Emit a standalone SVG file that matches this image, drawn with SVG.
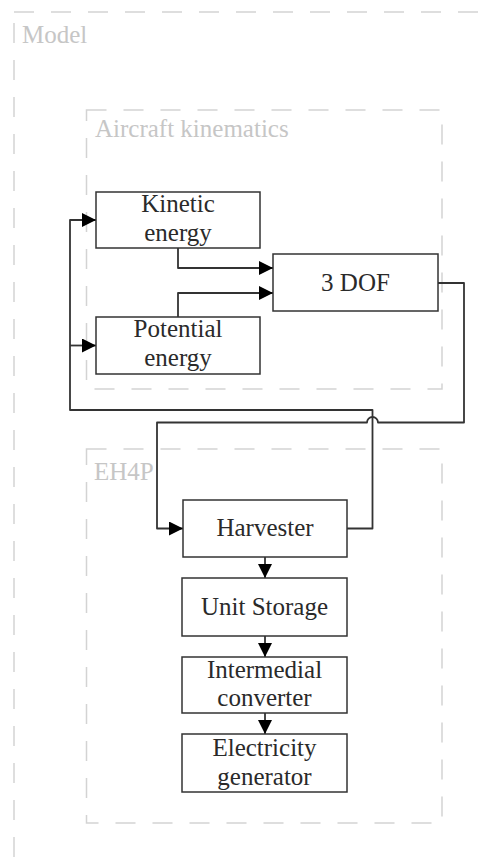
<svg xmlns="http://www.w3.org/2000/svg" width="483" height="867" viewBox="0 0 483 867">
<defs>
<style>
.container{fill:none;stroke:#d3d3d3;stroke-width:1.5;stroke-dasharray:20 17;}
.clabel{font-family:'Liberation Serif','Times New Roman',serif;font-size:25px;fill:#c6c6c6;}
.box{fill:#ffffff;stroke:#333333;stroke-width:1.5;}
.txt{font-family:'Liberation Serif','Times New Roman',serif;font-size:25px;fill:#2a2a2a;text-anchor:middle;}
.edge{fill:none;stroke:#333333;stroke-width:1.8;stroke-linejoin:round;}
</style>
<marker id="arr" viewBox="0 0 14 14" refX="14" refY="7" markerWidth="14" markerHeight="14" markerUnits="userSpaceOnUse" orient="auto">
<path d="M0,0 L14,7 L0,14 Z" fill="#000000"/>
</marker>
</defs>
<rect width="483" height="867" fill="#ffffff"/>
<g id="model">
<rect class="container" x="14" y="12" width="540" height="900"/>
<text class="clabel" x="22" y="43">Model</text>
</g>
<g id="aircraft-kinematics">
<rect class="container" x="86.5" y="110" width="355.5" height="279"/>
<text class="clabel" x="95" y="137">Aircraft kinematics</text>
</g>
<g id="eh4p">
<rect class="container" x="86.5" y="449" width="355.5" height="374"/>
<text class="clabel" x="94" y="480">EH4P</text>
</g>
<g id="connectors">
<path class="edge" d="M178,248 V268 H273" marker-end="url(#arr)"/>
<path class="edge" d="M178,317 V293 H273" marker-end="url(#arr)"/>
<path class="edge" d="M438,283 H464 V422.5 H378 A5.5,5.5 0 0 0 367,422.5 H157 V528.5 H183" marker-end="url(#arr)"/>
<path class="edge" d="M347,528.5 H372.5 V410 H70 V220 H96" marker-end="url(#arr)"/>
<path class="edge" d="M70,345.5 H96" marker-end="url(#arr)"/>
<path class="edge" d="M265,557 V578" marker-end="url(#arr)"/>
<path class="edge" d="M265,636 V657" marker-end="url(#arr)"/>
<path class="edge" d="M265,713 V734" marker-end="url(#arr)"/>
</g>
<g id="kinetic-energy">
<rect class="box" x="96" y="192" width="164" height="56"/>
<text class="txt" x="178" y="212">Kinetic</text>
<text class="txt" x="178" y="241">energy</text>
</g>
<g id="potential-energy">
<rect class="box" x="96" y="317" width="164" height="57"/>
<text class="txt" x="178" y="337">Potential</text>
<text class="txt" x="178" y="366">energy</text>
</g>
<g id="dof3">
<rect class="box" x="273" y="254" width="165" height="57"/>
<text class="txt" x="355.5" y="291">3 DOF</text>
</g>
<g id="harvester">
<rect class="box" x="183" y="500" width="164" height="57"/>
<text class="txt" x="265" y="536">Harvester</text>
</g>
<g id="unit-storage">
<rect class="box" x="182" y="578" width="165" height="58"/>
<text class="txt" x="264.5" y="615">Unit Storage</text>
</g>
<g id="intermedial-converter">
<rect class="box" x="182" y="657" width="165" height="56"/>
<text class="txt" x="264.5" y="678">Intermedial</text>
<text class="txt" x="264.5" y="706">converter</text>
</g>
<g id="electricity-generator">
<rect class="box" x="182" y="734" width="165" height="58"/>
<text class="txt" x="264.5" y="756">Electricity</text>
<text class="txt" x="264.5" y="785">generator</text>
</g>
</svg>
